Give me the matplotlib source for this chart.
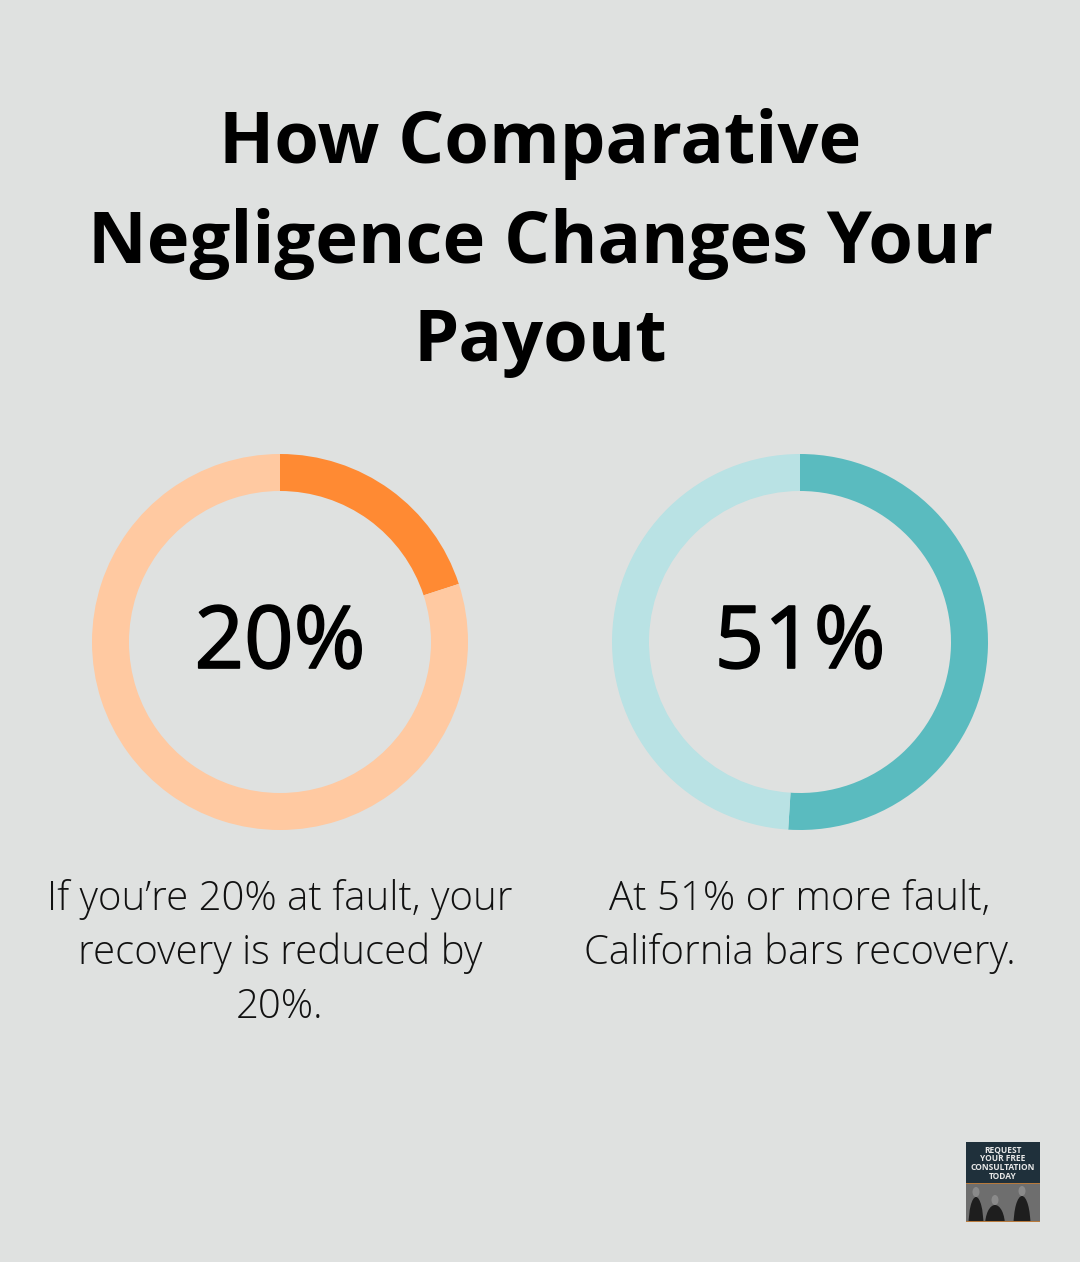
import matplotlib
matplotlib.use("Agg")
import matplotlib.pyplot as plt
import matplotlib.patheffects as pe
from matplotlib.patches import Rectangle, Ellipse

title_lines = ["How Comparative", "Negligence Changes Your", "Payout"]
percents = [20, 51]
captions = [["If you\u2019re 20% at fault, your", "recovery is reduced by", "20%."],
            ["At 51% or more fault,", "California bars recovery."]]
dark_colors = ["#FF8A33", "#5ABBBF"]
light_colors = ["#FFC9A1", "#B9E2E4"]
centers = [280, 800]
badge_lines = ["REQUEST", "YOUR FREE", "CONSULTATION", "TODAY"]

W, H = 1080, 1262
fig = plt.figure(figsize=(W / 100, H / 100), dpi=100, facecolor="#DFE1E0")

# full figure axes in pixel coords, y going down
bg = fig.add_axes([0, 0, 1, 1])
bg.set_xlim(0, W)
bg.set_ylim(H, 0)
bg.axis("off")

for y, line in zip([144.5, 243.5, 341.5], title_lines):
    bg.text(540.5, y, line, ha="center", va="center", fontsize=52, fontweight="bold",
            family="Open Sans", color="black")

for cx, pct, dark, light, lines in zip(centers, percents, dark_colors, light_colors, captions):
    ax = fig.add_axes([(cx - 190) / W, 1 - (642 + 190) / H, 380 / W, 380 / H])
    ax.pie([pct, 100 - pct], colors=[dark, light], startangle=90, counterclock=False,
           radius=188 / 190, wedgeprops=dict(width=37 / 190, linewidth=0))
    ax.set_xlim(-1, 1)
    ax.set_ylim(-1, 1)
    # no medium weight available, thicken the regular one a bit
    bg.text(cx, 645, f"{pct}%", ha="center", va="center", fontsize=62.5,
            family="Open Sans", color="black",
            path_effects=[pe.withStroke(linewidth=1.2, foreground="black")])
    for i, line in enumerate(lines):
        bg.text(cx, 899.5 + i * 54, line, ha="center", va="center", fontsize=28.9, fontweight="light",
                family="Open Sans", color="#111111")

# small badge bottom right
bg.add_patch(Rectangle((966, 1142), 74, 42, facecolor="#1F303B", edgecolor="none"))
photo = Rectangle((966, 1184), 74, 38, facecolor="#6E6E6E", edgecolor="none")
bg.add_patch(photo)
for x, top, w in [(976, 1187, 15), (995, 1195, 20), (1022, 1186, 17)]:
    head = Ellipse((x, top + 5), 7, 10, facecolor="#8A8A8A", edgecolor="none")
    body = Ellipse((x, 1226), w, 2 * (1226 - top - 10), facecolor="#1E1E1E", edgecolor="none")
    bg.add_patch(body)
    bg.add_patch(head)
    body.set_clip_path(photo)
    head.set_clip_path(photo)
bg.add_patch(Rectangle((966, 1183), 74, 1, facecolor="#B87A3C", edgecolor="none"))
bg.add_patch(Rectangle((966, 1221), 74, 1, facecolor="#B87A3C", edgecolor="none"))
for i, line in enumerate(badge_lines):
    bg.text(1003, 1149.5 + i * 9, line, ha="center", va="center", fontsize=6, fontweight="bold",
            family="Open Sans", color="#E8E8E8")

fig.savefig("out.png", dpi=100, facecolor=fig.get_facecolor())
